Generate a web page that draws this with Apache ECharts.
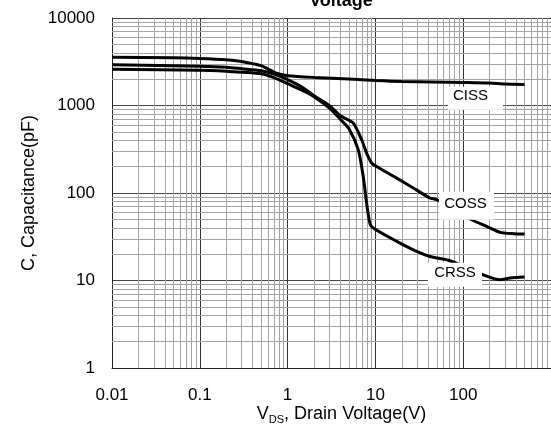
<!DOCTYPE html>
<html>
<head>
<meta charset="utf-8">
<script src="https://cdn.jsdelivr.net/npm/echarts@6/dist/echarts.min.js"></script>
<style>
html,body{margin:0;padding:0;background:#fff;}
#chart{width:551px;height:429px;}
</style>
</head>
<body>
<div id="chart"></div>
<script>
// ---- data ----
const xTickLabels = ['0.01', '0.1', '1', '10', '100', ''];
const yTickLabels = ['1', '10', '100', '1000', '10000'];

const cissV = [0.01, 0.05, 0.1, 0.2, 0.3, 0.4, 0.5, 0.6, 0.7, 0.8, 1, 2, 5, 10, 20, 100, 200, 300, 500];
const cissC = [3565, 3516, 3450, 3335, 3190, 3005, 2850, 2610, 2415, 2290, 2190, 2095, 2010, 1935, 1885, 1835, 1808, 1763, 1743];

const cossV = [0.01, 0.1, 0.2, 0.3, 0.5, 0.7, 1, 1.5, 2, 3, 4, 5.58, 6.97, 7.94, 9.06, 10.3, 17.5, 27, 41.8, 49.9, 125, 185, 263, 373, 500];
const cossC = [2925, 2812, 2742, 2636, 2500, 2280, 1973, 1597, 1294, 995, 764, 631, 406, 286, 220, 201, 148, 114, 87.7, 83.8, 49.5, 41.5, 35.5, 34.3, 34];

const crssV = [0.01, 0.1, 0.2, 0.3, 0.5, 0.7, 1, 1.5, 2, 3, 4, 5, 6.37, 7.26, 7.94, 8.66, 9.44, 17.5, 29.5, 41.8, 70.8, 169, 263, 342, 500];
const crssC = [2600, 2530, 2465, 2402, 2307, 2080, 1775, 1476, 1262, 931, 693, 543, 313, 155, 77, 45, 39.8, 28, 21.5, 18.8, 16.8, 11.6, 10.2, 10.7, 11];

const curveNames = ['CISS', 'COSS', 'CRSS'];
// label anchor points (data coordinates) for the curve tags
const tagV = [138, 109, 80.6];
const tagC = [1211, 71.6, 11.65];

// ---- minor grid positions (axis values 2..9 per decade) ----
const xDecades = [0.01, 0.1, 1, 10, 100];
const yDecades = [1, 10, 100, 1000];
const xMinor = [], yMinor = [];
xDecades.forEach(d => { for (let k = 2; k <= 9; k++) xMinor.push(+(d * k).toPrecision(3)); });
yDecades.forEach(d => { for (let k = 2; k <= 9; k++) yMinor.push(+(d * k).toPrecision(3)); });

const pair = (xs, ys) => xs.map((v, i) => [v, ys[i]]);

const FONT = 'Liberation Sans, Arial, sans-serif';
const chart = echarts.init(document.getElementById('chart'), null, {renderer: 'canvas'});

const tagSizes = [[55, 23], [55, 28], [54, 24]];
const tagOffsets = [[-5, -2], [-1, -2], [0, -2]];

function curve(name, xs, ys, idx) {
  return {
    name: name,
    type: 'line',
    data: pair(xs, ys),
    showSymbol: false,
    symbol: 'none',
    smooth: 0.25,
    z: 3,
    lineStyle: {color: '#000', width: 3},
    animation: false,
    markPoint: {
      z: 6,
      silent: true,
      animation: false,
      symbol: 'rect',
      symbolSize: tagSizes[idx],
      itemStyle: {color: '#fff'},
      label: {
        show: true,
        position: 'inside',
        color: '#000',
        fontFamily: FONT,
        fontSize: 15,
        offset: tagOffsets[idx],
        formatter: name
      },
      data: [{coord: [tagV[idx], tagC[idx]], value: name}]
    }
  };
}

const option = {
  backgroundColor: '#fff',
  animation: false,
  title: {
    text: 'Voltage',
    left: 336,
    top: -13,
    textAlign: 'center',
    textStyle: {fontFamily: FONT, fontSize: 18, fontWeight: 'bold', color: '#000'}
  },
  grid: {left: 112, right: 0, top: 18, bottom: 61, containLabel: false, outerBoundsMode: 'none'},
  xAxis: {
    type: 'log',
    logBase: 10,
    min: 0.01,
    max: 1000,
    name: 'V{sub|DS}, Drain Voltage(V)',
    nameLocation: 'middle',
    nameGap: 35,
    nameMoveOverlap: false,
    nameTextStyle: {
      fontFamily: FONT, fontSize: 18, color: '#000', lineHeight: 22,
      padding: [0, 0, 0, 20],
      rich: {
        sub: {fontFamily: FONT, fontSize: 11, lineHeight: 10, verticalAlign: 'bottom', color: '#000'}
      }
    },
    axisLine: {show: true, lineStyle: {color: '#222', width: 1}},
    axisTick: {show: false},
    axisLabel: {
      margin: 19,
      fontFamily: FONT, fontSize: 17, color: '#000',
      formatter: (v, i) => xTickLabels[i] !== undefined ? xTickLabels[i] : ''
    },
    splitLine: {show: true, lineStyle: {color: '#333', width: 1}}
  },
  yAxis: {
    type: 'log',
    logBase: 10,
    min: 1,
    max: 10000,
    name: 'C, Capacitance(pF)',
    nameLocation: 'middle',
    nameGap: 74,
    nameMoveOverlap: false,
    nameTextStyle: {fontFamily: FONT, fontSize: 18, color: '#000'},
    axisLine: {show: true, lineStyle: {color: '#222', width: 1}},
    axisTick: {show: false},
    axisLabel: {
      margin: 17,
      fontFamily: FONT, fontSize: 17, color: '#000',
      formatter: (v, i) => yTickLabels[i] !== undefined ? yTickLabels[i] : ''
    },
    splitLine: {show: true, lineStyle: {color: '#444', width: 1}}
  },
  series: [
    {
      name: 'grid',
      type: 'line',
      data: [[1, 1]],
      symbol: 'none',
      lineStyle: {opacity: 0},
      silent: true,
      z: 1,
      animation: false,
      markLine: {
        z: 1,
        silent: true,
        animation: false,
        symbol: ['none', 'none'],
        label: {show: false},
        lineStyle: {color: '#a3a3a3', width: 1, type: 'solid'},
        emphasis: {disabled: true},
        data: xMinor.map(v => ({xAxis: v})).concat(yMinor.map(v => ({yAxis: v})))
      }
    },
    curve(curveNames[0], cissV, cissC, 0),
    curve(curveNames[1], cossV, cossC, 1),
    curve(curveNames[2], crssV, crssC, 2)
  ]
};
chart.setOption(option);
</script>
</body>
</html>
